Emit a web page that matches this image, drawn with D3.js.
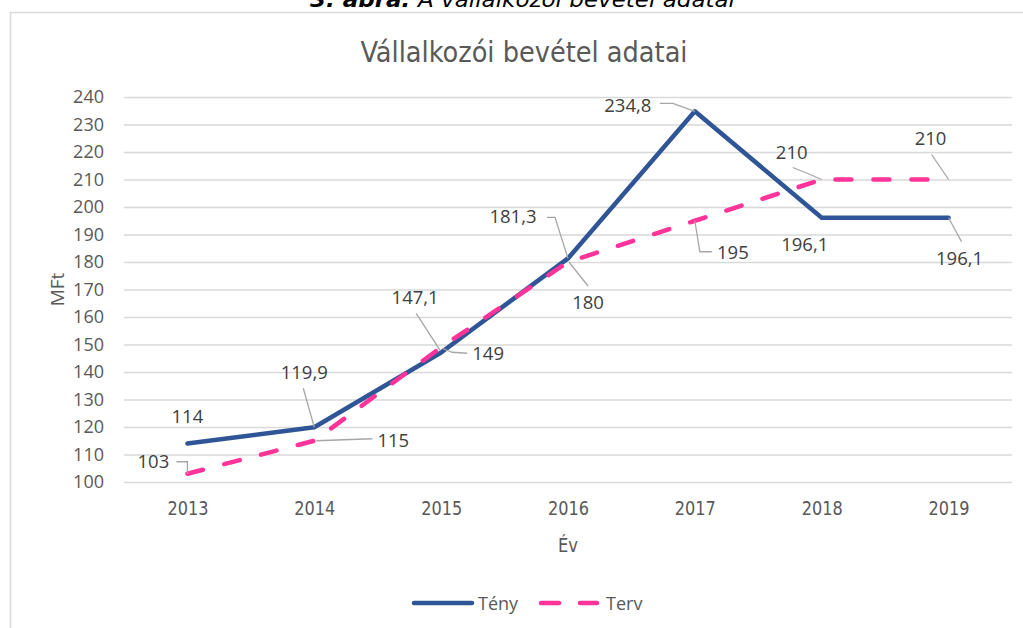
<!DOCTYPE html>
<html>
<head>
<meta charset="utf-8">
<script src="https://cdn.jsdelivr.net/npm/d3@7"></script>
<style>
  body { margin: 0; background: #fff; }
  svg { display: block; }
</style>
</head>
<body>
<div id="chart"></div>
<script>
// chart data
const years = ['2013', '2014', '2015', '2016', '2017', '2018', '2019']
const teny = [114, 119.9, 147.1, 181.3, 234.8, 196.1, 196.1]
const terv = [103, 115, 149, 180, 195, 210, 210]
const yTicks = [100, 110, 120, 130, 140, 150, 160, 170, 180, 190, 200, 210, 220, 230, 240]

// label placement (pixel offsets from the point), layout only
const tenyLabelPos = [[0, -21], [-10, -48], [-26, -48], [-55, -35], [-67, 1], [-17, 33], [11, 47]]
const tenyLeaders = [null, [[-11, -39], [0, 0]], [[-25, -39], [-1, -2]], [[-21, -41], [-13, -41], [0, 0]],
    [[-35, -8], [-22, -8], [0, 0]], null, [[0, 0], [13, 24]]]
const tervLabelPos = [[-34, -6], [79, 6], [47, 13], [20, 47], [38, 38], [-30, -21], [-18, -35]]
const tervLeaders = [[[-11, -12], [0, -12], [0, 0]], [[2, 0], [58, -2]], [[1, 1], [11, 5], [26, 6]],
    [[1, 0], [20, 24]], [[0, 0], [5, 31], [17, 31]], [[-29, -12], [-14, -6], [0, 0]], [[-17, -25], [0, 0]]]

// dimensions
const w = 1023
const h = 628
const pl = 124
const pr = 1012
const ptop = 97
const pbtm = 482

const blue = '#2F5597'
const pink = '#FF3399'
const labelFont = "'Open Sans', 'Noto Sans', sans-serif"
const narrowFont = "'Liberation Sans Narrow', 'DejaVu Sans Condensed', 'Roboto', sans-serif"

const svg = d3.select('#chart')
    .append('svg')
    .attr('width', w)
    .attr('height', h)

// caption above the chart (cut off at top)
const cap = svg.append('text')
    .attr('x', 310)
    .attr('y', 7)
    .attr('font-family', narrowFont)
    .attr('font-size', 22)
    .attr('font-style', 'italic')
    .attr('fill', '#000')
    .attr('textLength', 425)
    .attr('lengthAdjust', 'spacingAndGlyphs')
cap.append('tspan').attr('font-weight', 'bold').text('3. ábra:')
cap.append('tspan').text(' A vállalkozói bevétel adatai')

// chart border
svg.append('rect')
    .attr('x', 10.5)
    .attr('y', 12.5)
    .attr('width', 1040)
    .attr('height', 700)
    .attr('fill', 'none')
    .attr('stroke', '#d9d9d9')
    .attr('stroke-width', 1.5)

// title
svg.append('text')
    .attr('x', 524)
    .attr('y', 62)
    .attr('text-anchor', 'middle')
    .attr('font-family', narrowFont)
    .attr('font-size', 28)
    .attr('fill', '#595959')
    .attr('textLength', 327)
    .attr('lengthAdjust', 'spacingAndGlyphs')
    .text('Vállalkozói bevétel adatai')

// scales
const xScale = d3.scalePoint()
    .domain(years)
    .range([pl, pr])
    .padding(0.5)

const yScale = d3.scaleLinear()
    .domain([100, 240])
    .range([pbtm, ptop])

// y axis with gridlines
const yAxis = d3.axisLeft(yScale)
    .tickValues(yTicks)
    .tickSize(-(pr - pl))
    .tickPadding(20)
    .tickFormat(d3.format('d'))

const gy = svg.append('g')
    .attr('transform', `translate(${pl},0)`)
    .call(yAxis)
gy.select('.domain').remove()
gy.selectAll('line').attr('stroke', '#d9d9d9').attr('stroke-width', 1.3)
gy.selectAll('text')
    .attr('font-family', labelFont)
    .attr('font-size', 18)
    .attr('fill', '#595959')

// x axis
const xAxis = d3.axisBottom(xScale).tickSize(0).tickPadding(19)
const gx = svg.append('g')
    .attr('transform', `translate(0,${pbtm})`)
    .call(xAxis)
gx.select('.domain').remove()
gx.selectAll('text')
    .attr('font-family', narrowFont)
    .attr('font-size', 20)
    .attr('fill', '#595959')
    .attr('textLength', 41)
    .attr('lengthAdjust', 'spacingAndGlyphs')

// axis titles
svg.append('text')
    .attr('x', 568)
    .attr('y', 552)
    .attr('text-anchor', 'middle')
    .attr('font-family', narrowFont)
    .attr('font-size', 20)
    .attr('fill', '#595959')
    .attr('textLength', 20)
    .attr('lengthAdjust', 'spacingAndGlyphs')
    .text('Év')

svg.append('text')
    .attr('transform', `translate(64,${(ptop + pbtm) / 2}) rotate(-90)`)
    .attr('text-anchor', 'middle')
    .attr('font-family', labelFont)
    .attr('font-size', 19)
    .attr('fill', '#595959')
    .text('MFt')

// lines
const line = d3.line()
    .x((d, i) => xScale(years[i]))
    .y(d => yScale(d))

svg.append('path')
    .datum(teny)
    .attr('d', line)
    .attr('fill', 'none')
    .attr('stroke', blue)
    .attr('stroke-width', 4.5)
    .attr('stroke-linejoin', 'round')
    .attr('stroke-linecap', 'round')

svg.append('path')
    .datum(terv)
    .attr('d', line)
    .attr('fill', 'none')
    .attr('stroke', pink)
    .attr('stroke-width', 4.5)
    .attr('stroke-dasharray', '16,22')
    .attr('stroke-linecap', 'round')
    .attr('stroke-linejoin', 'round')

// data labels with leader lines
const fmt = v => String(v).replace('.', ',')
const leader = d3.line()

function addLabels(values, pos, leaders) {
    values.forEach((v, i) => {
        const px = xScale(years[i])
        const py = yScale(v)
        if (leaders[i]) {
            svg.append('path')
                .attr('d', leader(leaders[i].map(p => [px + p[0], py + p[1]])))
                .attr('fill', 'none')
                .attr('stroke', '#a6a6a6')
                .attr('stroke-width', 1.3)
        }
        svg.append('text')
            .attr('x', px + pos[i][0])
            .attr('y', py + pos[i][1])
            .attr('text-anchor', 'middle')
            .attr('font-family', labelFont)
            .attr('font-size', 18.5)
            .attr('fill', '#404040')
            .text(fmt(v))
    })
}
addLabels(teny, tenyLabelPos, tenyLeaders)
addLabels(terv, tervLabelPos, tervLeaders)

// legend
const legend = svg.append('g').attr('transform', 'translate(0,603)')
legend.append('line')
    .attr('x1', 414).attr('x2', 472)
    .attr('stroke', blue).attr('stroke-width', 4.5).attr('stroke-linecap', 'round')
legend.append('text')
    .attr('x', 478).attr('y', 7)
    .attr('font-family', labelFont).attr('font-size', 18).attr('fill', '#595959')
    .text('Tény')
legend.append('line')
    .attr('x1', 541).attr('x2', 597)
    .attr('stroke', pink).attr('stroke-width', 4.5).attr('stroke-linecap', 'round')
    .attr('stroke-dasharray', '18,21')
legend.append('text')
    .attr('x', 606).attr('y', 7)
    .attr('font-family', labelFont).attr('font-size', 18).attr('fill', '#595959')
    .text('Terv')
</script>
</body>
</html>
